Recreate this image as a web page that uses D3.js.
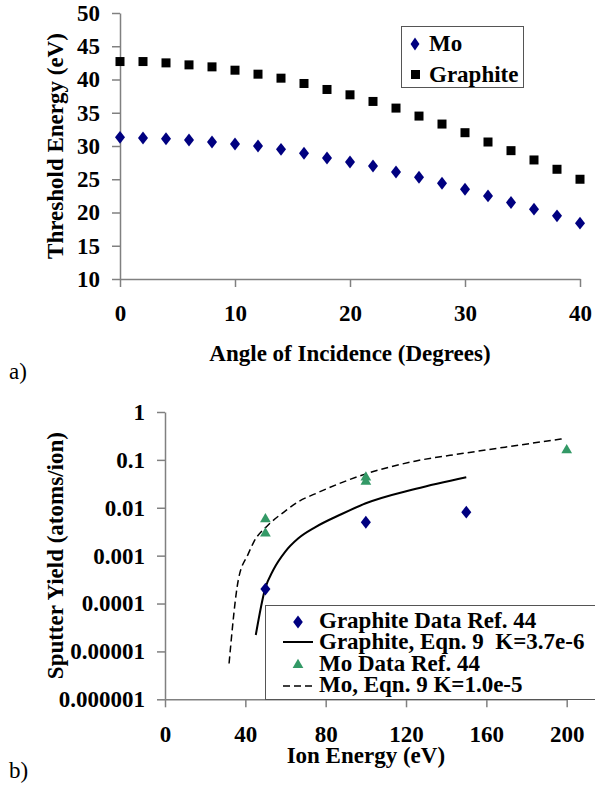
<!DOCTYPE html>
<meta charset="utf-8">
<style>
body { margin: 0; background: #fff; }
</style>
<body>
<script src="https://cdn.jsdelivr.net/npm/d3@7"></script>
<script>

// ---- panel a) threshold energy vs angle
var angles = [0, 2, 4, 6, 8, 10, 12, 14, 16, 18, 20, 22, 24, 26, 28, 30, 32, 34, 36, 38, 40];
var moThreshold = [31.3, 31.2, 31.1, 30.9, 30.6, 30.3, 30.0, 29.5, 28.9, 28.2, 27.6,
                   27.0, 26.1, 25.3, 24.4, 23.5, 22.5, 21.5, 20.5, 19.5, 18.4];
var graphiteThreshold = [42.7, 42.7, 42.5, 42.2, 41.9, 41.4, 40.8, 40.2, 39.4, 38.5, 37.7,
                         36.7, 35.7, 34.5, 33.3, 32.0, 30.6, 29.3, 27.9, 26.5, 25.0];
var angleTicks = [0, 10, 20, 30, 40];
var thresholdTicks = [10, 15, 20, 25, 30, 35, 40, 45, 50];

// ---- panel b) sputter yield vs ion energy
var graphiteDataE = [50, 100, 150];
var graphiteDataY = [0.0002, 0.005, 0.0081];
var moDataE = [50, 50, 100, 100, 200];
var moDataY = [0.0058, 0.0029, 0.043, 0.035, 0.16];
var graphiteEqnE = [45.2, 49.8, 53.9, 59.8, 66.4, 74.7, 88, 100, 125, 150];
var graphiteEqnY = [0.000022, 0.0002, 0.0005, 0.0012, 0.0023, 0.0039, 0.0074, 0.0124, 0.025, 0.0435];
var moEqnE = [31.9, 36.5, 41.5, 44.3, 51.5, 60.6, 66.4, 74.7, 100, 125, 148.6, 175, 199];
var moEqnY = [0.0000056, 0.00031, 0.0011, 0.00196, 0.0044, 0.009, 0.0134, 0.0195, 0.051, 0.095, 0.137, 0.2, 0.28];
var energyTicks = [0, 40, 80, 120, 160, 200];
var yieldTicks = [1, 0.1, 0.01, 0.001, 0.0001, 0.00001, 0.000001];
var yieldTickLabels = ["1", "0.1", "0.01", "0.001", "0.0001", "0.00001", "0.000001"];

var navy = "#000080", green = "#339966";

var svg = d3.select("body").append("svg")
    .attr("width", 595)
    .attr("height", 786);

// ================= panel a =================
var xa = d3.scaleLinear().domain([0, 40]).range([120, 580]);
var ya = d3.scaleLinear().domain([10, 50]).range([279, 13]);

svg.append("g")
    .attr("class", "axis")
    .attr("transform", "translate(0," + ya(10) + ")")
    .call(d3.axisBottom(xa).tickValues(angleTicks).tickSize(8).tickPadding(18).tickSizeOuter(0));

svg.append("g")
    .attr("class", "axis")
    .attr("transform", "translate(" + xa(0) + ",0)")
    .call(d3.axisLeft(ya).tickValues(thresholdTicks).tickSize(8).tickPadding(12).tickSizeOuter(0));

// graphite squares
svg.append("g").selectAll("rect")
    .data(angles)
  .enter().append("rect")
    .attr("x", function(d) { return xa(d) - 4.5; })
    .attr("y", function(d, i) { return ya(graphiteThreshold[i]) - 4.5; })
    .attr("width", 9)
    .attr("height", 9)
    .attr("fill", "#000");

// Mo diamonds
var diamond = d3.symbol().type(d3.symbolDiamond).size(48);
svg.append("g").selectAll("path")
    .data(angles)
  .enter().append("path")
    .attr("d", diamond)
    .attr("transform", function(d, i) {
      return "translate(" + xa(d) + "," + ya(moThreshold[i]) + ") scale(1.35,1)"; })
    .attr("fill", navy);

svg.append("text")
    .attr("class", "title")
    .attr("x", (xa(0) + xa(40)) / 2)
    .attr("y", 361)
    .attr("text-anchor", "middle")
    .text("Angle of Incidence (Degrees)");

svg.append("text")
    .attr("class", "title")
    .attr("transform", "translate(63," + (ya(10) + ya(50)) / 2 + ") rotate(-90)")
    .attr("text-anchor", "middle")
    .text("Threshold Energy (eV)");

svg.append("text")
    .attr("class", "panel")
    .attr("x", 9).attr("y", 379)
    .text("a)");

// legend a
var lega = svg.append("g");
lega.append("rect")
    .attr("x", 401.5).attr("y", 26.5)
    .attr("width", 122).attr("height", 61)
    .attr("fill", "#fff").attr("stroke", "#555").attr("stroke-width", 1);
lega.append("path")
    .attr("d", diamond)
    .attr("transform", "translate(415,44) scale(1.2,1)")
    .attr("fill", navy);
lega.append("rect")
    .attr("x", 411).attr("y", 70).attr("width", 9).attr("height", 9)
    .attr("fill", "#000");
lega.append("text").attr("class", "leg").attr("x", 429).attr("y", 51).text("Mo");
lega.append("text").attr("class", "leg").attr("x", 429).attr("y", 82).text("Graphite");

// ================= panel b =================
var xb = d3.scaleLinear().domain([0, 200]).range([165, 566.7]);
var yb = d3.scaleLog().domain([0.000001, 1]).range([699.3, 412]);

svg.append("g")
    .attr("class", "axis")
    .attr("transform", "translate(0," + yb(0.000001) + ")")
    .call(d3.axisBottom(xb).tickValues(energyTicks).tickSize(8).tickPadding(18).tickSizeOuter(0));

svg.append("g")
    .attr("class", "axis")
    .attr("transform", "translate(" + xb(0) + ",0)")
    .call(d3.axisLeft(yb).tickValues(yieldTicks).tickSize(8).tickPadding(12).tickSizeOuter(0)
      .tickFormat(function(d, i) { return yieldTickLabels[i]; }));

var line = d3.line()
    .x(function(d) { return xb(d[0]); })
    .y(function(d) { return yb(d[1]); })
    .curve(d3.curveMonotoneX);

svg.append("path")
    .datum(moEqnE.map(function(e, i) { return [e, moEqnY[i]]; }))
    .attr("d", line)
    .attr("fill", "none")
    .attr("stroke", "#000")
    .attr("stroke-width", 1.5)
    .attr("stroke-dasharray", "7,4");

svg.append("path")
    .datum(graphiteEqnE.map(function(e, i) { return [e, graphiteEqnY[i]]; }))
    .attr("d", line)
    .attr("fill", "none")
    .attr("stroke", "#000")
    .attr("stroke-width", 2);

var triangle = d3.symbol().type(d3.symbolTriangle).size(50);

svg.append("g").selectAll("path")
    .data(moDataE)
  .enter().append("path")
    .attr("d", triangle)
    .attr("transform", function(d, i) {
      return "translate(" + xb(d) + "," + yb(moDataY[i]) + ")"; })
    .attr("fill", green);

svg.append("g").selectAll("path")
    .data(graphiteDataE)
  .enter().append("path")
    .attr("d", diamond)
    .attr("transform", function(d, i) {
      return "translate(" + xb(d) + "," + yb(graphiteDataY[i]) + ") scale(1.35,1)"; })
    .attr("fill", navy);

svg.append("text")
    .attr("class", "title")
    .attr("x", (xb(0) + xb(200)) / 2)
    .attr("y", 763)
    .attr("text-anchor", "middle")
    .text("Ion Energy (eV)");

svg.append("text")
    .attr("class", "title")
    .attr("transform", "translate(63," + (yb(1) + yb(0.000001)) / 2 + ") rotate(-90)")
    .attr("text-anchor", "middle")
    .text("Sputter Yield (atoms/ion)");

svg.append("text")
    .attr("class", "panel")
    .attr("x", 9).attr("y", 778)
    .text("b)");

// legend b
var legb = svg.append("g");
legb.append("rect")
    .attr("x", 265.5).attr("y", 605.5)
    .attr("width", 340).attr("height", 94)
    .attr("fill", "#fff").attr("stroke", "#555").attr("stroke-width", 1);
legb.append("path")
    .attr("d", diamond)
    .attr("transform", "translate(298,622) scale(1.3,1)")
    .attr("fill", navy);
legb.append("line")
    .attr("x1", 283).attr("x2", 313).attr("y1", 642).attr("y2", 642)
    .attr("stroke", "#000").attr("stroke-width", 2);
legb.append("path")
    .attr("d", triangle)
    .attr("transform", "translate(298,665)")
    .attr("fill", green);
legb.append("line")
    .attr("x1", 283).attr("x2", 313).attr("y1", 686).attr("y2", 686)
    .attr("stroke", "#000").attr("stroke-width", 1.5).attr("stroke-dasharray", "7,4");

var legTexts = ["Graphite Data Ref. 44", "Graphite, Eqn. 9  K=3.7e-6", "Mo Data Ref. 44", "Mo, Eqn. 9 K=1.0e-5"];
legb.selectAll("text.leg")
    .data(legTexts)
  .enter().append("text")
    .attr("class", "leg")
    .attr("x", 319)
    .attr("y", function(d, i) { return 628.3 + i * 21.1; })
    .text(function(d) { return d; });

// styling (inline so it wins over the axis defaults)
svg.selectAll(".axis path, .axis line")
    .style("stroke", "#808080")
    .style("stroke-width", "1.5px");
svg.selectAll("text")
    .style("font-family", "'Liberation Serif', 'Times New Roman', serif")
    .style("font-size", "23px")
    .style("font-weight", "bold")
    .style("fill", "#000")
    .style("white-space", "pre");
svg.selectAll("text.panel")
    .style("font-weight", "normal");

</script>
</body>
